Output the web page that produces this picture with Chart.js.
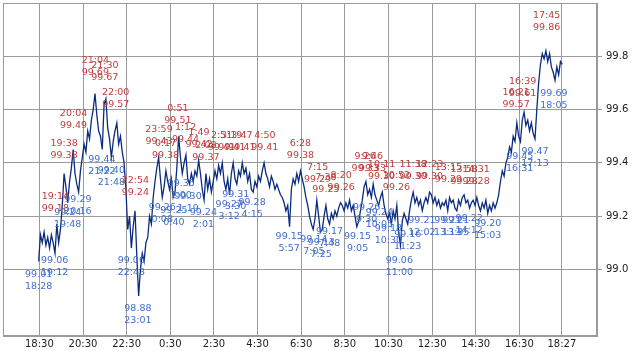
<!DOCTYPE html>
<html>
<head>
<meta charset="utf-8">
<script src="https://cdn.jsdelivr.net/npm/chart.js@4.4.1/dist/chart.umd.min.js"></script>
<style>
  html, body { margin: 0; padding: 0; background: #ffffff; }
  #wrap { width: 638px; height: 351px; }
</style>
</head>
<body>
<div id="wrap"><canvas id="c" width="638" height="351"></canvas></div>
<script>
// ---- data ----
const seriesStart = '18:28';      // first sample time
const seriesStepMinutes = 5;      // sampling step
const priceValues = [
  99.03, 99.13, 99.10, 99.14, 99.09, 99.12, 99.08, 99.13, 99.10, 99.06, 99.17, 99.10, // 18:28
  99.15, 99.24, 99.36, 99.31, 99.25, 99.33, 99.38, 99.45, 99.36, 99.32, 99.29, 99.37, // 19:28
  99.42, 99.47, 99.44, 99.52, 99.49, 99.56, 99.60, 99.66, 99.58, 99.52, 99.50, 99.45, // 20:28
  99.62, 99.64, 99.53, 99.49, 99.42, 99.48, 99.52, 99.55, 99.47, 99.50, 99.44, 99.40, // 21:28
  99.30, 99.15, 99.20, 99.08, 99.16, 99.22, 99.05, 98.90, 99.00, 99.06, 99.03, 99.10, // 22:28
  99.12, 99.20, 99.17, 99.27, 99.33, 99.38, 99.42, 99.34, 99.27, 99.31, 99.37, 99.33, // 23:28
  99.30, 99.34, 99.27, 99.29, 99.38, 99.50, 99.42, 99.36, 99.40, 99.43, 99.34, 99.32, // 0:28
  99.36, 99.33, 99.37, 99.35, 99.41, 99.36, 99.30, 99.26, 99.36, 99.30, 99.34, 99.29, // 1:28
  99.33, 99.37, 99.34, 99.39, 99.36, 99.40, 99.33, 99.30, 99.34, 99.28, 99.36, 99.40, // 2:28
  99.34, 99.32, 99.37, 99.35, 99.40, 99.36, 99.38, 99.33, 99.36, 99.30, 99.29, 99.33, // 3:28
  99.31, 99.35, 99.33, 99.37, 99.40, 99.36, 99.34, 99.31, 99.35, 99.33, 99.30, 99.32, // 4:28
  99.30, 99.28, 99.27, 99.25, 99.22, 99.24, 99.16, 99.30, 99.34, 99.32, 99.36, 99.33, // 5:28
  99.37, 99.34, 99.31, 99.27, 99.24, 99.20, 99.17, 99.15, 99.19, 99.26, 99.20, 99.14, // 6:28
  99.15, 99.20, 99.24, 99.19, 99.17, 99.21, 99.19, 99.22, 99.20, 99.23, 99.25, 99.24, // 7:28
  99.22, 99.25, 99.23, 99.26, 99.22, 99.24, 99.20, 99.16, 99.18, 99.22, 99.26, 99.31, // 8:28
  99.33, 99.28, 99.30, 99.27, 99.32, 99.28, 99.26, 99.24, 99.27, 99.29, 99.24, 99.21, // 9:28
  99.19, 99.21, 99.17, 99.22, 99.19, 99.24, 99.14, 99.09, 99.18, 99.21, 99.19, 99.17, // 10:28
  99.22, 99.26, 99.29, 99.25, 99.27, 99.24, 99.26, 99.22, 99.25, 99.27, 99.25, 99.29, // 11:28
  99.28, 99.25, 99.27, 99.24, 99.26, 99.23, 99.25, 99.24, 99.26, 99.22, 99.27, 99.25, // 12:28
  99.26, 99.23, 99.22, 99.26, 99.24, 99.27, 99.28, 99.25, 99.26, 99.23, 99.25, 99.26, // 13:28
  99.24, 99.27, 99.24, 99.22, 99.25, 99.23, 99.26, 99.21, 99.24, 99.22, 99.25, 99.23, // 14:28
  99.25, 99.28, 99.33, 99.37, 99.35, 99.40, 99.42, 99.46, 99.44, 99.50, 99.48, 99.55, // 15:28
  99.50, 99.48, 99.56, 99.59, 99.54, 99.56, 99.52, 99.55, 99.51, 99.49, 99.60, 99.70, // 16:28
  99.77, 99.81, 99.79, 99.82, 99.78, 99.81, 99.76, 99.74, 99.71, 99.76, 99.73, 99.78, // 17:28
  99.77                                                                                // 18:28
];

// local highs (red labels)
const highTimes  = ['19:14','19:38','20:04','21:04','21:30','22:00','22:54','23:59','0:17','0:51','1:12','1:49','2:08','2:51','3:19','3:47','4:50','6:28','7:15','7:38','8:20','9:26','9:46','10:11','10:52','11:38','12:23','13:15','13:58','14:31','16:21','16:39','17:45'];
const highValues = [99.18, 99.38, 99.49, 99.69, 99.67, 99.57, 99.24, 99.43, 99.38, 99.51, 99.44, 99.42, 99.37, 99.41, 99.41, 99.41, 99.41, 99.38, 99.29, 99.25, 99.26, 99.33, 99.33, 99.30, 99.26, 99.30, 99.30, 99.29, 99.28, 99.28, 99.57, 99.61, 99.86];

// local lows (blue labels)
const lowTimes  = ['18:28','19:12','19:48','20:16','21:22','21:48','22:43','23:01','0:08','0:40','1:00','1:19','2:01','3:12','3:30','4:15','5:57','7:05','7:25','7:48','9:05','9:30','10:05','10:30','11:00','11:23','12:02','13:13','13:35','14:12','15:03','16:31','17:13','18:05'];
const lowValues = [99.01, 99.06, 99.24, 99.29, 99.44, 99.40, 99.06, 98.88, 99.26, 99.25, 99.35, 99.30, 99.24, 99.27, 99.31, 99.28, 99.15, 99.14, 99.13, 99.17, 99.15, 99.26, 99.24, 99.18, 99.06, 99.16, 99.21, 99.21, 99.21, 99.22, 99.20, 99.45, 99.47, 99.69];

// axis ticks
const xTickLabels = ['18:30','20:30','22:30','0:30','2:30','4:30','6:30','8:30','10:30','12:30','14:30','16:30','18:27'];
const yTickValues = [99.0, 99.2, 99.4, 99.6, 99.8];

// ---- helpers ----
// minutes relative to 18:30 of the first day (anything before 18:28 is the next day)
function toRel(hhmm) {
  const p = hhmm.split(':');
  let rel = parseInt(p[0], 10) * 60 + parseInt(p[1], 10) - (18 * 60 + 30);
  if (rel < -2) rel += 1440;
  return rel;
}
const startRel = toRel(seriesStart);
const points = priceValues.map((v, i) => ({ x: startRel + i * seriesStepMinutes, y: v }));

const GRID = '#9a9a9a';
const RED = '#c23b3b';
const BLUE = '#3f6fcc';
const LABEL_FONT = '9.5px "DejaVu Sans"';

const extremaLabels = {
  id: 'extremaLabels',
  afterDatasetsDraw(chart) {
    const ctx = chart.ctx;
    const xs = chart.scales.x, ys = chart.scales.y;
    ctx.save();
    ctx.font = LABEL_FONT;
    ctx.textAlign = 'center';
    ctx.textBaseline = 'middle';
    ctx.fillStyle = RED;
    highTimes.forEach((t, i) => {
      const px = xs.getPixelForValue(toRel(t));
      const py = ys.getPixelForValue(highValues[i]);
      ctx.fillText(t, px, py - 25);
      ctx.fillText(highValues[i].toFixed(2), px, py - 13);
    });
    ctx.fillStyle = BLUE;
    lowTimes.forEach((t, i) => {
      const px = xs.getPixelForValue(toRel(t));
      const py = ys.getPixelForValue(lowValues[i]);
      ctx.fillText(lowValues[i].toFixed(2), px, py + 7.5);
      ctx.fillText(t, px, py + 19.5);
    });
    ctx.restore();
  }
};

const frame = {
  id: 'frame',
  beforeDraw(chart) {
    const ctx = chart.ctx;
    ctx.save();
    ctx.fillStyle = '#ffffff';
    ctx.fillRect(0, 0, chart.width, chart.height);
    ctx.restore();
  },
  afterDraw(chart) {
    const a = chart.chartArea;
    const ctx = chart.ctx;
    ctx.save();
    ctx.strokeStyle = GRID;
    ctx.lineWidth = 1;
    ctx.strokeRect(Math.round(a.left) + 0.5, Math.round(a.top) + 0.5,
                   Math.round(a.right - a.left) - 1, Math.round(a.bottom - a.top) - 1);
    ctx.restore();
  }
};

new Chart(document.getElementById('c'), {
  type: 'line',
  data: {
    datasets: [{
      data: points,
      borderColor: '#0b2c7e',
      borderWidth: 1.3,
      pointRadius: 0,
      tension: 0,
      fill: false
    }]
  },
  options: {
    responsive: false,
    devicePixelRatio: 1,
    animation: false,
    layout: { autoPadding: false, padding: { left: 3, top: 3, right: 0, bottom: 0 } },
    plugins: { legend: { display: false }, tooltip: { enabled: false } },
    scales: {
      x: {
        type: 'linear',
        position: 'bottom',
        min: -100,
        max: 1533.5,
        afterBuildTicks(scale) { scale.ticks = xTickLabels.map(l => ({ value: toRel(l) })); },
        afterFit(scale) { scale.height = 15; scale.paddingLeft = 0; scale.paddingRight = 0; },
        ticks: {
          autoSkip: false,
          maxRotation: 0,
          padding: 2,
          color: '#222',
          font: { family: 'DejaVu Sans', size: 10 },
          callback: (v, i) => xTickLabels[i]
        },
        grid: { color: GRID, drawTicks: false, lineWidth: 1 },
        border: { color: GRID, width: 1 }
      },
      y: {
        type: 'linear',
        position: 'right',
        min: 98.75,
        max: 100.0,
        afterBuildTicks(scale) { scale.ticks = yTickValues.map(v => ({ value: v })); },
        afterFit(scale) { scale.width = 41; scale.paddingTop = 0; scale.paddingBottom = 0; },
        ticks: {
          padding: 4,
          color: '#222',
          font: { family: 'DejaVu Sans', size: 10 },
          callback: v => Number(v).toFixed(1)
        },
        grid: { color: GRID, tickLength: 5, lineWidth: 1 },
        border: { color: GRID, width: 1 }
      }
    }
  },
  plugins: [frame, extremaLabels]
});
</script>
</body>
</html>
